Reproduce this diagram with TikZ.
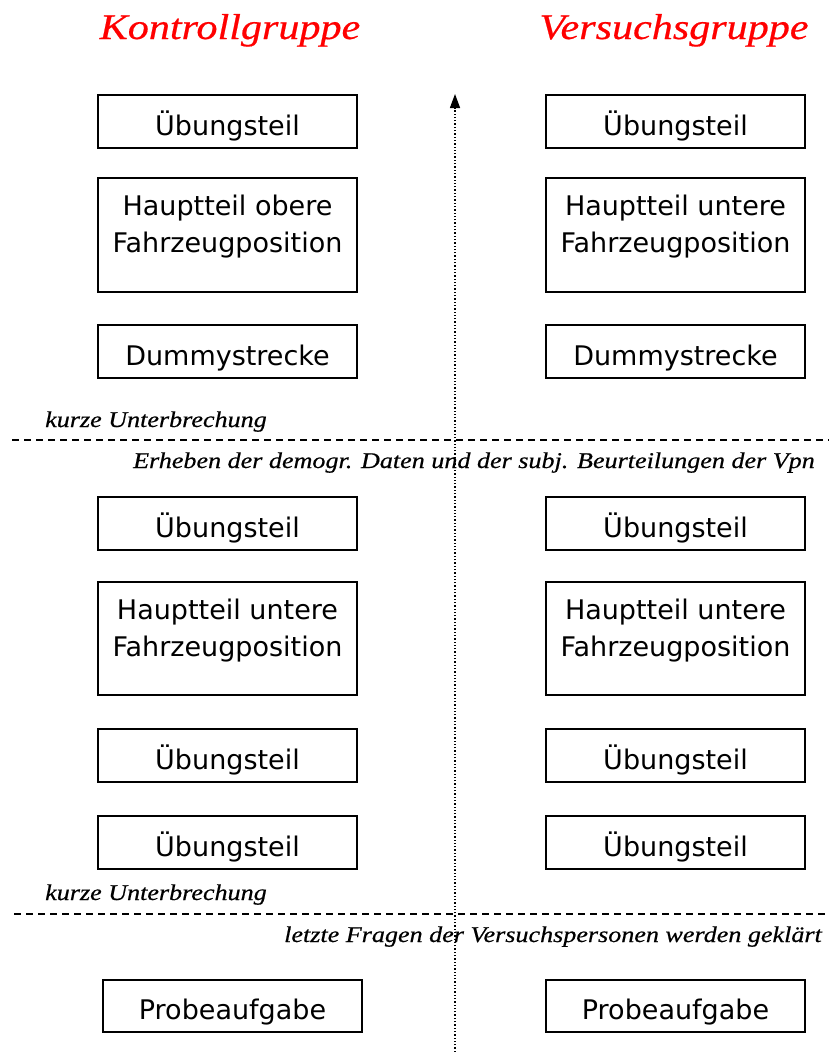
\documentclass[tikz,border=0pt]{standalone}
\usepackage{fontspec}
\setmainfont{Liberation Serif}
\setsansfont{DejaVu Sans}
\newfontfamily\titlefont[FakeStretch=1.17,FakeBold=0.5]{Liberation Serif}
\newfontfamily\notefont[FakeStretch=1.16,FakeBold=0.5]{Liberation Serif}
\usetikzlibrary{arrows.meta}
\begin{document}
\begin{tikzpicture}[x=1pt,y=-1pt,
  stage/.style={draw, line width=1.5pt, font=\sffamily\fontsize{27}{37}\selectfont, align=center, inner sep=0pt, minimum width=259pt},
  single/.style={stage, minimum height=53pt, text height=27pt, text depth=0pt},
  double/.style={stage, minimum height=114pt},
  title/.style={font=\titlefont\itshape\fontsize{36}{40}\selectfont, text=red, anchor=base, inner sep=0pt},
  note/.style={font=\notefont\itshape\fontsize{22.5}{24}\selectfont, inner sep=0pt},
  sep/.style={line width=1.3pt, dash pattern=on 7pt off 5pt}]
\useasboundingbox (0,0) rectangle (829,1052);
\node[title] (tk) at (230,39) {Kontrollgruppe};
\node[title] (tv) at (674,39) {Versuchsgruppe};
% left column
\node[single] (l1) at (227.5,121.5) {Übungsteil};
\node[double] (l2) at (227.5,235) {Hauptteil obere\\Fahrzeugposition\\[-15pt]};
\node[single] (l3) at (227.5,351.5) {Dummystrecke};
\node[single] (l4) at (227.5,523.5) {Übungsteil};
\node[double, minimum height=113pt] (l5) at (227.5,638.5) {Hauptteil untere\\Fahrzeugposition\\[-15pt]};
\node[single] (l6) at (227.5,755.5) {Übungsteil};
\node[single] (l7) at (227.5,842.5) {Übungsteil};
\node[single, minimum height=52pt] (l8) at (232.5,1006) {Probeaufgabe};
% right column
\node[single] (r1) at (675.5,121.5) {Übungsteil};
\node[double] (r2) at (675.5,235) {Hauptteil untere\\Fahrzeugposition\\[-15pt]};
\node[single] (r3) at (675.5,351.5) {Dummystrecke};
\node[single] (r4) at (675.5,523.5) {Übungsteil};
\node[double, minimum height=113pt] (r5) at (675.5,638.5) {Hauptteil untere\\Fahrzeugposition\\[-15pt]};
\node[single] (r6) at (675.5,755.5) {Übungsteil};
\node[single] (r7) at (675.5,842.5) {Übungsteil};
\node[single, minimum height=52pt] (r8) at (675.5,1006) {Probeaufgabe};
% separators
\coordinate (s1a) at (12,440); \coordinate (s1b) at (829,440);
\coordinate (s2a) at (14,914); \coordinate (s2b) at (829,914);
\draw[sep] (s1a) -- (s1b);
\draw[sep] (s2a) -- (s2b);
\node[note, anchor=base west] (k1) at (45,427) {kurze Unterbrechung};
\node[note, anchor=base east] (e1) at (815,468) {Erheben der demogr. Daten und der subj. Beurteilungen der Vpn};
\node[note, anchor=base west] (k2) at (45,900) {kurze Unterbrechung};
\node[note, anchor=base east] (e2) at (822,942) {letzte Fragen der Versuchspersonen werden geklärt};
% time arrow
\coordinate (ta) at (455,1052); \coordinate (tb) at (455,94);
\draw[line width=1.3pt, dash pattern=on 1.3pt off 2pt, -{Triangle[length=14pt,width=10pt]}] (ta) -- (tb);
\end{tikzpicture}
\end{document}
